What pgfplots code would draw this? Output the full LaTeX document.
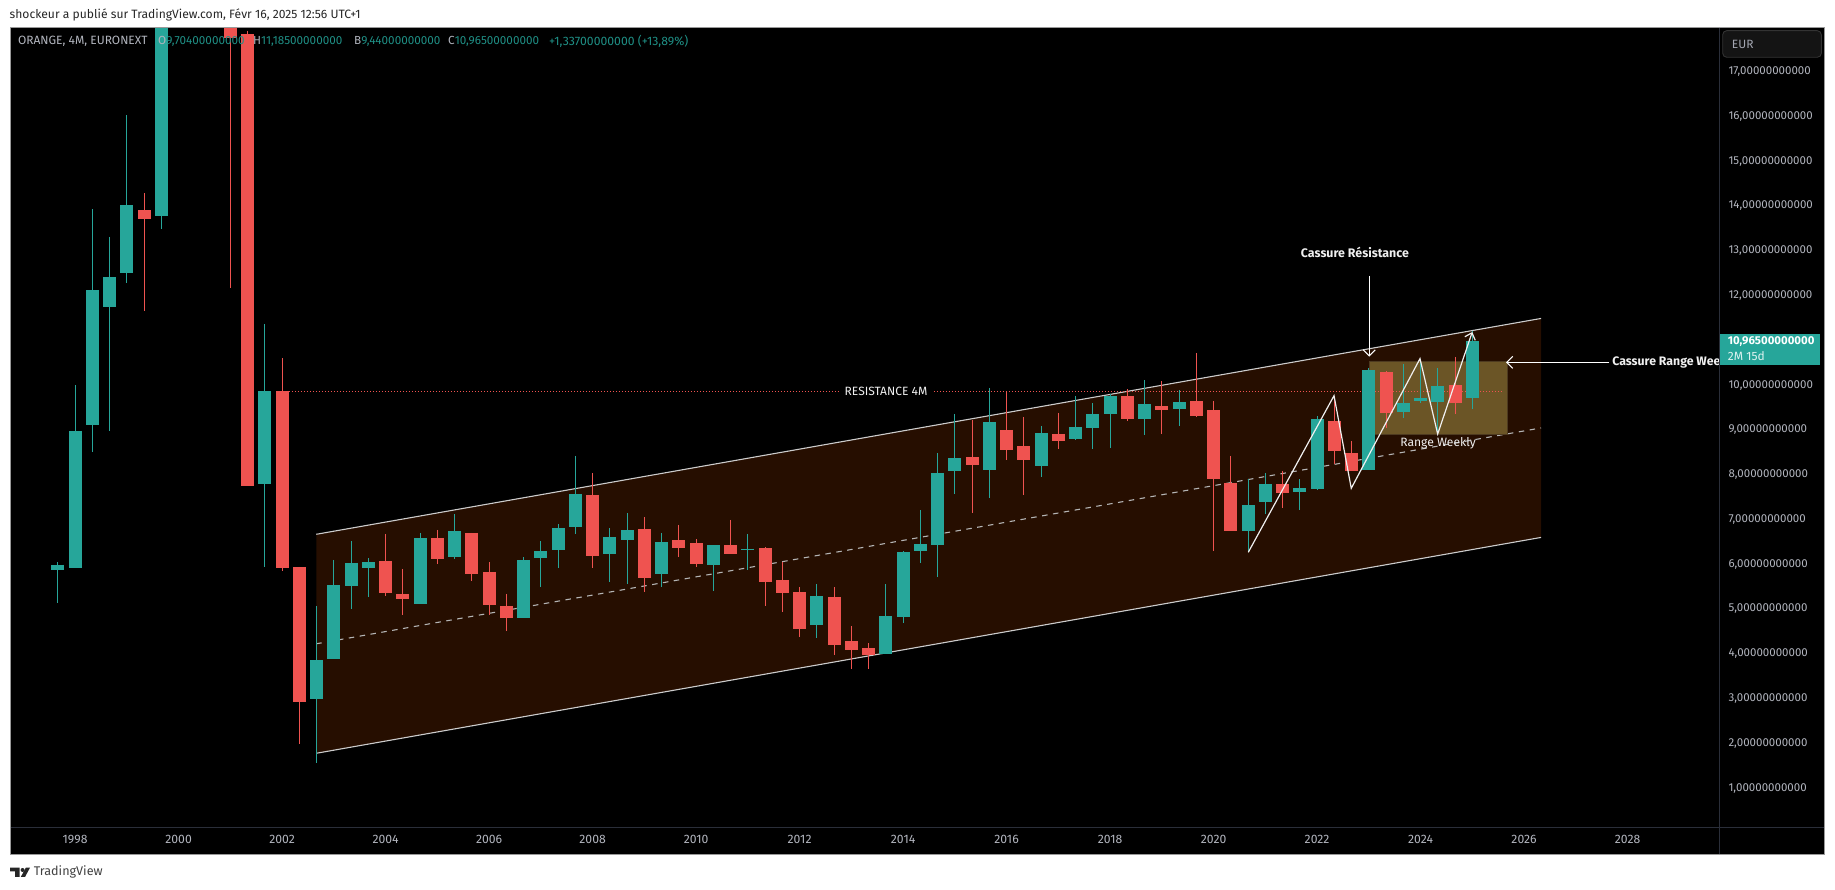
\documentclass[border=0pt]{standalone}
\usepackage{pgfplots}
\pgfplotsset{compat=1.18}
\usepackage{pgfplotstable}
\usepackage{fontspec}
\setmainfont{Fira Sans}
\usetikzlibrary{arrows.meta}
\definecolor{tvup}{HTML}{26A69A}
\definecolor{tvdown}{HTML}{EF5350}
\definecolor{chan}{HTML}{260E00}
\definecolor{rng}{HTML}{6B5526}
\definecolor{rngb}{HTML}{4D3A20}
\definecolor{axt}{HTML}{B2B5BE}
\definecolor{sep}{HTML}{2A2E39}
\definecolor{legt}{HTML}{1F8F85}
\definecolor{anno}{HTML}{F0F0F0}
\pgfplotstableread{
x bot top low high
1997.667 5.85 5.97 5.12 6.03
1998 5.90 8.96 5.90 9.98
1998.333 9.09 12.11 8.49 13.91
1998.667 11.73 12.40 8.96 13.29
1999 12.49 14.00 12.26 16.01
1999.667 13.76 20.00 13.47 20.50
2001.667 7.77 9.84 5.92 11.35
2002.667 2.97 3.84 1.54 5.05
2003 3.87 5.52 3.87 6.08
2003.333 5.50 6.01 4.98 6.50
2003.667 5.90 6.03 5.25 6.12
2004.667 5.09 6.57 5.09 6.68
2005.333 6.14 6.72 6.10 7.10
2006.667 4.78 6.08 4.78 6.14
2007 6.12 6.28 5.47 6.50
2007.333 6.30 6.79 5.90 6.88
2007.667 6.81 7.55 6.66 8.40
2008.333 6.21 6.59 5.58 6.79
2008.667 6.52 6.74 5.54 7.12
2009.333 5.76 6.47 5.47 6.68
2010.333 5.96 6.41 5.38 6.41
2011 6.30 6.33 5.85 6.66
2012.333 4.62 5.27 4.33 5.54
2013.667 3.98 4.82 3.98 5.54
2014 4.80 6.25 4.67 6.27
2014.333 6.27 6.43 6.01 7.19
2014.667 6.41 8.02 5.70 8.46
2015 8.06 8.35 7.55 9.34
2015.667 8.08 9.16 7.46 9.92
2016.667 8.18 8.91 7.93 9.07
2017.333 8.78 9.05 8.76 9.74
2017.667 9.02 9.34 8.55 9.58
2018 9.34 9.74 8.58 9.78
2018.667 9.22 9.56 8.87 10.09
2019.333 9.45 9.60 9.07 9.87
2020.667 6.72 7.30 6.25 7.88
2021 7.37 7.77 7.10 8.02
2021.667 7.59 7.68 7.19 7.88
2022 7.66 9.22 7.64 9.29
2023 8.08 10.32 8.08 10.36
2023.667 9.38 9.58 9.25 10.45
2024 9.62 9.69 9.58 10.56
2024.333 9.60 9.96 8.89 10.36
2025 9.704 10.965 9.44 11.185
}\upcandles
\pgfplotstableread{
x bot top low high
1999.333 13.69 13.89 11.64 14.27
2001 17.73 22 12.16 24
2001.333 7.73 17.82 7.73 17.90
2002 5.90 9.84 5.84 10.58
2002.333 2.905 5.92 1.97 5.92
2004 5.34 6.05 5.27 6.66
2004.333 5.20 5.32 4.85 5.88
2005 6.10 6.57 5.99 6.75
2005.667 5.76 6.68 5.60 6.68
2006 5.07 5.81 4.85 6.03
2006.333 4.78 5.05 4.49 5.32
2008 6.17 7.53 5.90 8.02
2009 5.67 6.77 5.36 7.03
2009.667 6.34 6.52 6.14 6.86
2010 5.99 6.45 5.92 6.54
2010.667 6.21 6.41 6.21 6.97
2011.333 5.58 6.34 5.04 6.36
2011.667 5.34 5.63 4.91 6.03
2012 4.53 5.36 4.36 5.47
2012.667 4.18 5.25 3.95 5.47
2013 4.07 4.27 3.64 4.60
2013.333 3.95 4.11 3.64 4.22
2015.333 8.20 8.37 7.12 9.20
2016 8.53 8.98 8.31 9.85
2016.333 8.31 8.62 7.53 9.27
2017 8.73 8.89 8.55 9.36
2018.333 9.22 9.74 9.18 9.89
2019 9.42 9.51 8.89 10.07
2019.667 9.29 9.62 9.27 10.70
2020 7.88 9.42 6.27 9.62
2020.333 6.72 7.79 6.72 8.40
2021.333 7.57 7.77 7.23 8.06
2022.333 8.51 9.18 8.22 9.74
2022.667 8.06 8.46 8.06 8.73
2023.333 9.36 10.27 9.02 10.30
2024.667 9.58 9.98 9.34 10.61
}\downcandles
\newcommand{\fs}[1]{\fontsize{#1}{#1}\selectfont}
\begin{document}
\begin{tikzpicture}[x=1pt,y=1pt]
\useasboundingbox (0,0) rectangle (1835,890);
\fill[black] (10.3,35.7) rectangle (1824.7,862.7);
\begin{axis}[
  at={(10.3pt,62.7pt)}, anchor=south west,
  scale only axis, width=1709pt, height=800pt,
  xmin=1996.748, xmax=2029.772, ymin=0.107, ymax=17.972,
  axis line style={draw=sep, line width=0.8pt},
  axis background/.style={fill=black},
  tick style={draw=none}, major tick length=0pt,
  xtick={1998,2000,...,2028},
  xticklabels={1998,2000,2002,2004,2006,2008,2010,2012,2014,2016,2018,2020,2022,2024,2026,2028},
  ytick={1,2,3,4,5,6,7,8,9,10,12,13,14,15,16,17},
  yticklabels={{1,00000000000},{2,00000000000},{3,00000000000},{4,00000000000},{5,00000000000},{6,00000000000},{7,00000000000},{8,00000000000},{9,00000000000},{10,00000000000},{12,00000000000},{13,00000000000},{14,00000000000},{15,00000000000},{16,00000000000},{17,00000000000}},
  yticklabel pos=right,
  y tick label style={anchor=west, inner sep=0pt, xshift=9pt, yshift=-0.8pt, font=\fs{11.5}, text=axt},
  x tick label style={inner sep=0pt, yshift=-8pt, font=\fs{12.2}, text=axt},
]
% channel
\addplot[fill=chan, draw=none] coordinates {(2002.661,6.65) (2026.327,11.47) (2026.327,6.58) (2002.661,1.76)} -- cycle;
\addplot[draw=anno!85!black, line width=1.1pt] coordinates {(2002.661,6.65) (2026.327,11.47)};
\addplot[draw=anno!85!black, line width=1.1pt] coordinates {(2002.661,1.76) (2026.327,6.58)};
\addplot[draw=anno!75!black, line width=1.1pt, dash pattern=on 5.5pt off 5.5pt] coordinates {(2002.661,4.205) (2026.327,9.025)};
% weekly range
\addplot[fill=rng, draw=rngb, line width=1pt] coordinates {(2023.009,10.505) (2025.676,10.505) (2025.676,8.884) (2023.009,8.884)} -- cycle;
% resistance
\addplot[draw=tvdown, line width=0.8pt, dash pattern=on 1pt off 2pt] coordinates {(2002.133,9.84) (2025.6,9.84)};
% wicks and bodies
\addplot[draw=none, no markers, error bars/.cd, y dir=both, y explicit, error mark=none, error bar style={draw=tvup, line width=1pt}]
  table[x=x, y=high, y error plus expr=0, y error minus expr=\thisrow{high}-\thisrow{low}] {\upcandles};
\addplot[draw=none, no markers, error bars/.cd, y dir=both, y explicit, error mark=none, error bar style={draw=tvdown, line width=1pt}]
  table[x=x, y=high, y error plus expr=0, y error minus expr=\thisrow{high}-\thisrow{low}] {\downcandles};
\addplot[draw=none, no markers, error bars/.cd, y dir=both, y explicit, error mark=none, error bar style={draw=tvup, line width=13pt}]
  table[x=x, y=top, y error plus expr=0, y error minus expr=\thisrow{top}-\thisrow{bot}] {\upcandles};
\addplot[draw=none, no markers, error bars/.cd, y dir=both, y explicit, error mark=none, error bar style={draw=tvdown, line width=13pt}]
  table[x=x, y=top, y error plus expr=0, y error minus expr=\thisrow{top}-\thisrow{bot}] {\downcandles};
% zigzag
\addplot[draw=anno, line width=1.2pt, line join=miter, -{Straight Barb[length=6pt,width=11pt]}] coordinates {(2020.67,6.248) (2022.327,9.745) (2022.66,7.677) (2023.988,10.572) (2024.33,8.89) (2024.998,11.168)};
% arrows
\addplot[draw=white, line width=1.1pt, -{Straight Barb[length=6pt,width=12pt]}] coordinates {(2023.009,12.42) (2023.009,10.617)};
\addplot[draw=white, line width=1.1pt, -{Straight Barb[length=6pt,width=12pt]}] coordinates {(2027.647,10.49) (2025.65,10.49)};
% annotations
\node[fill=black, inner sep=0pt, minimum width=92pt, minimum height=10pt, text=anno, font=\fs{12}] at (axis cs:2013.67,9.84) {RESISTANCE 4M};
\node[text=anno, font=\fs{12.4}\bfseries, inner sep=0pt] at (axis cs:2022.73,12.94) {Cassure Résistance};
\node[text=anno, font=\fs{12.3}\bfseries, inner sep=0pt, anchor=west] at (axis cs:2027.7,10.49) {Cassure Range Wee};
\node[text=anno, font=\fs{12.1}, inner sep=0pt] at (axis cs:2024.336,8.682) {Range Weekly};
\end{axis}
% frame
\draw[draw=sep, line width=0.8pt] (1719.3,35.7) -- (1719.3,862.7);
\draw[draw=sep, line width=0.8pt] (10.3,62.7) -- (1824.7,62.7);
\draw[draw=black!40, line width=0.9pt] (10.3,35.7) rectangle (1824.7,862.7);
% header and legend
\node[anchor=west, inner sep=0pt, text=black!85, font=\fs{12.1}] at (9.5,875) {shockeur a publié sur TradingView.com, Févr 16, 2025 12:56 UTC+1};
\node[anchor=west, inner sep=0pt, text=axt, font=\fs{12}] at (17.8,848.3) {ORANGE, 4M, EURONEXT};
\node[anchor=west, inner sep=0pt, font=\fs{11.7}] at (158,848.3) {\textcolor{axt}{O}\textcolor{legt}{9,70400000000}};
\node[anchor=west, inner sep=0pt, font=\fs{11.7}] at (253,848.3) {\textcolor{axt}{H}\textcolor{legt}{11,18500000000}};
\node[anchor=west, inner sep=0pt, font=\fs{11.7}] at (354,848.3) {\textcolor{axt}{B}\textcolor{legt}{9,44000000000}};
\node[anchor=west, inner sep=0pt, font=\fs{11.7}] at (448,848.3) {\textcolor{axt}{C}\textcolor{legt}{10,96500000000}};
\node[anchor=west, inner sep=0pt, text=legt, font=\fs{12.2}] at (549,848.3) {+1,33700000000 (+13,89\%)};
% EUR box
\draw[fill=black!92!white, draw=black!80!white, rounded corners=4pt, line width=0.9pt] (1722.7,859.3) rectangle (1821.3,832.7);
\node[anchor=west, inner sep=0pt, text=axt!120!white, font=\fs{12}] at (1731.7,845.7) {EUR};
% price tag
\fill[tvup] (1720,556) rectangle (1820,525);
\node[anchor=west, inner sep=0pt, text=white, font=\fs{11.4}\bfseries] at (1727.7,548.3) {10,96500000000};
\node[anchor=west, inner sep=0pt, text=white!85!tvup, font=\fs{12}] at (1727.7,534.3) {2M 15d};
% TradingView logo
\fill[black!85] (10,22.3) -- (19.5,22.3) -- (19.5,13) -- (15,13) -- (15,18.5) -- (10,18.5) -- cycle;
\fill[black!85] (22.6,20) circle (2pt);
\fill[black!85] (25.8,22.3) -- (30,22.3) -- (25,13) -- (20.8,13) -- cycle;
\node[anchor=west, inner sep=0pt, text=black!75, font=\fs{12.6}] at (33.6,17.7) {TradingView};
\end{tikzpicture}
\end{document}
